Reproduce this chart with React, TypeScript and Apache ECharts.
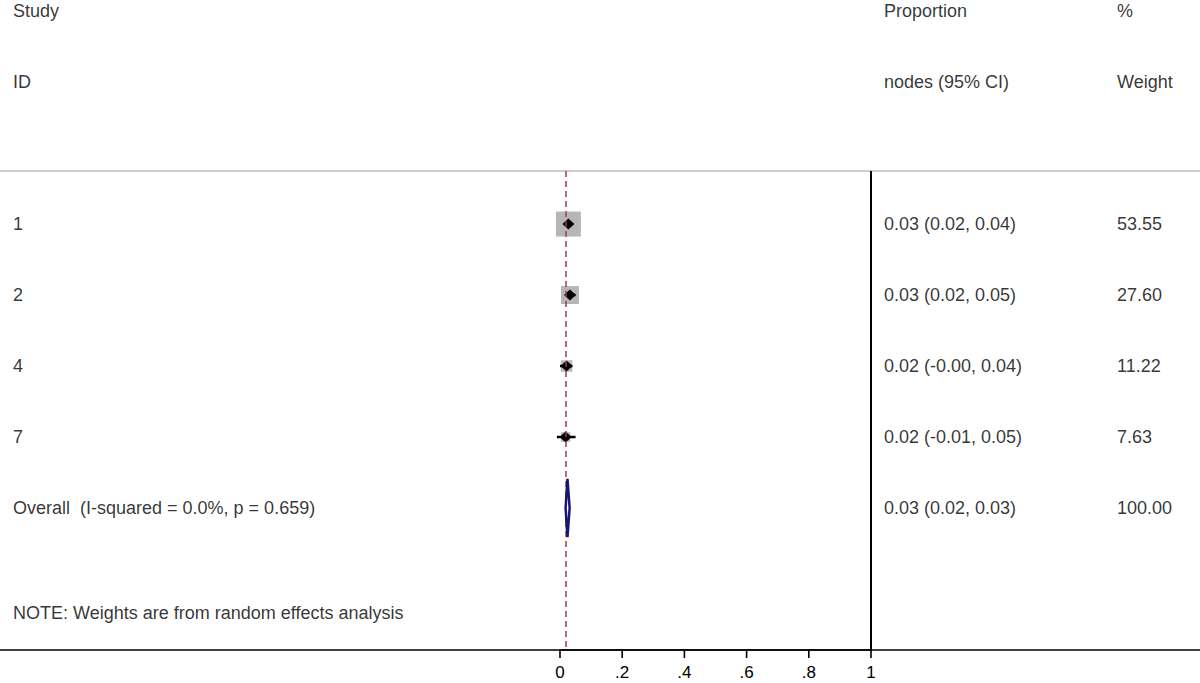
import React, { useEffect, useRef } from "react";
import * as echarts from "echarts";

// ---- data ----
const studyIds = ["1", "2", "4", "7"];
const studyRows = [1, 2, 3, 4];
const estimates = [0.027, 0.032, 0.021, 0.018];
const ciLower = [0.02, 0.02, -0.0, -0.01];
const ciUpper = [0.04, 0.05, 0.04, 0.05];
const weights = [53.55, 27.6, 11.22, 7.63];
const esLabels = ["0.03 (0.02, 0.04)", "0.03 (0.02, 0.05)", "0.02 (-0.00, 0.04)", "0.02 (-0.01, 0.05)"];
const weightLabels = ["53.55", "27.60", "11.22", "7.63"];

const overallRow = 5;
const overallLabel = "Overall  (I-squared = 0.0%, p = 0.659)";
const overallEstimate = 0.024;
const overallLower = 0.018;
const overallUpper = 0.031;
const overallEsLabel = "0.03 (0.02, 0.03)";
const overallWeightLabel = "100.00";

const headerRows = [-2, -1];
const headerLeft = ["Study", "ID"];
const headerMid = ["Proportion", "nodes (95% CI)"];
const headerRight = ["%", "Weight"];
const noteRow = 6.48;
const noteText = "NOTE: Weights are from random effects analysis";

const xTicks = [0, 0.2, 0.4, 0.6, 0.8, 1];
const xTickLabels = ["0", ".2", ".4", ".6", ".8", "1"];

// ---- layout ----
const FONT = "'Liberation Sans', Arial, Helvetica, sans-serif";
const PLOT_LEFT = 560;
const PLOT_W = 311;
const PLOT_TOP = 171;
const PLOT_H = 479;
const Y_MIN = 0.253;
const Y_MAX = 7.0;
const K = PLOT_H / (Y_MAX - Y_MIN);
const FULL_Y_MIN = Y_MIN - PLOT_TOP / K;
const FULL_Y_MAX = Y_MAX + (683 - PLOT_TOP - PLOT_H) / K;
const COL_LEFT = 13;
const COL_MID = 884;
const COL_RIGHT = 1117;
const MAX_SQUARE = 25;
const TICK_LEN = 8;

export default function App() {
  const ref = useRef<HTMLDivElement>(null);

  useEffect(() => {
    if (!ref.current) return;
    const chart = echarts.init(ref.current, undefined, { renderer: "svg" });

    const textData: any[] = [];
    headerRows.forEach((r, i) => {
      textData.push([COL_LEFT, r, headerLeft[i]]);
      textData.push([COL_MID, r, headerMid[i]]);
      textData.push([COL_RIGHT, r, headerRight[i]]);
    });
    studyIds.forEach((id, i) => {
      textData.push([COL_LEFT, studyRows[i], id]);
      textData.push([COL_MID, studyRows[i], esLabels[i]]);
      textData.push([COL_RIGHT, studyRows[i], weightLabels[i]]);
    });
    textData.push([COL_LEFT, overallRow, overallLabel]);
    textData.push([COL_MID, overallRow, overallEsLabel]);
    textData.push([COL_RIGHT, overallRow, overallWeightLabel]);
    textData.push([COL_LEFT, noteRow, noteText]);

    const maxW = Math.max(...weights);

    chart.setOption({
      animation: false,
      backgroundColor: "#fff",
      grid: [
        { left: PLOT_LEFT, top: PLOT_TOP, width: PLOT_W, height: PLOT_H },
        { left: 0, top: 0, width: 1200, height: 683 },
      ],
      xAxis: [
        {
          gridIndex: 0,
          type: "value",
          min: 0,
          max: 1,
          interval: 0.2,
          axisLine: { show: true, onZero: false, lineStyle: { color: "#000", width: 1.5 } },
          axisTick: { show: false },
          axisLabel: {
            color: "#000",
            fontSize: 17,
            fontFamily: FONT,
            margin: 14,
            formatter: (v: number) => {
              const idx = xTicks.findIndex((t) => Math.abs(t - v) < 1e-9);
              return idx >= 0 ? xTickLabels[idx] : "";
            },
          },
          splitLine: { show: false },
        },
        { gridIndex: 1, type: "value", min: 0, max: 1200, show: false },
      ],
      yAxis: [
        { gridIndex: 0, type: "value", min: Y_MIN, max: Y_MAX, inverse: true, show: false },
        { gridIndex: 1, type: "value", min: FULL_Y_MIN, max: FULL_Y_MAX, inverse: true, show: false },
      ],
      graphic: [
        { type: "line", shape: { x1: 0, y1: PLOT_TOP, x2: 1200, y2: PLOT_TOP }, style: { stroke: "#bdbdbd", lineWidth: 1.5 }, z: 0 },
        { type: "line", shape: { x1: 0, y1: PLOT_TOP + PLOT_H, x2: 1200, y2: PLOT_TOP + PLOT_H }, style: { stroke: "#000", lineWidth: 1.5 }, z: 10 },
      ],
      series: [
        {
          type: "scatter",
          xAxisIndex: 0,
          yAxisIndex: 0,
          data: [],
          z: 1,
          markLine: {
            silent: true,
            symbol: "none",
            label: { show: false },
            data: [
              { xAxis: overallEstimate, lineStyle: { color: "#a8384e", width: 1.5, type: [6, 4] } },
              { xAxis: 1, lineStyle: { color: "#000", width: 2, type: "solid" } },
            ],
          },
        },
        {
          // axis ticks
          type: "custom",
          xAxisIndex: 0,
          yAxisIndex: 0,
          z: 3,
          clip: false,
          silent: true,
          encode: { x: 0, y: 1 },
          data: xTicks.map((t) => [t, Y_MAX]),
          renderItem: (params: any, api: any) => {
            const p = api.coord([api.value(0), api.value(1)]);
            return {
              type: "line",
              shape: { x1: p[0], y1: p[1], x2: p[0], y2: p[1] + TICK_LEN },
              style: { stroke: "#000", lineWidth: 1.6 },
            };
          },
        },
        {
          type: "scatter",
          xAxisIndex: 0,
          yAxisIndex: 0,
          symbol: "rect",
          z: 2,
          itemStyle: { color: "#b6b6b6", opacity: 1 },
          data: estimates.map((e, i) => ({
            value: [e, studyRows[i]],
            symbolSize: MAX_SQUARE * Math.sqrt(weights[i] / maxW),
          })),
        },
        {
          type: "custom",
          xAxisIndex: 0,
          yAxisIndex: 0,
          z: 3,
          encode: { x: [0, 1], y: 2 },
          data: studyRows.map((r, i) => [ciLower[i], ciUpper[i], r]),
          renderItem: (params: any, api: any) => {
            const a = api.coord([api.value(0), api.value(2)]);
            const b = api.coord([api.value(1), api.value(2)]);
            return {
              type: "line",
              shape: { x1: a[0], y1: a[1], x2: b[0], y2: b[1] },
              style: { stroke: "#000", lineWidth: 2.5 },
            };
          },
        },
        {
          type: "scatter",
          xAxisIndex: 0,
          yAxisIndex: 0,
          symbol: "diamond",
          symbolSize: [12, 11],
          z: 4,
          itemStyle: { color: "#000", opacity: 1 },
          data: estimates.map((e, i) => [e, studyRows[i]]),
        },
        {
          type: "custom",
          xAxisIndex: 0,
          yAxisIndex: 0,
          z: 5,
          encode: { x: [0, 1, 2], y: 3 },
          data: [[overallLower, overallEstimate, overallUpper, overallRow]],
          renderItem: (params: any, api: any) => {
            const row = api.value(3);
            const h = 0.41;
            const p1 = api.coord([api.value(0), row]);
            const p2 = api.coord([api.value(1), row - h]);
            const p3 = api.coord([api.value(2), row]);
            const p4 = api.coord([api.value(1), row + h]);
            return {
              type: "polygon",
              shape: { points: [p1, p2, p3, p4] },
              style: { fill: "#fff", stroke: "#161675", lineWidth: 2.5 },
            };
          },
        },
        {
          type: "scatter",
          xAxisIndex: 1,
          yAxisIndex: 1,
          symbolSize: 0,
          z: 6,
          silent: true,
          data: textData,
          label: {
            show: true,
            position: "right",
            distance: 0,
            align: "left",
            verticalAlign: "middle",
            color: "#000",
            fontSize: 18,
            fontFamily: FONT,
            formatter: (p: any) => p.value[2],
          },
        },
      ],
    });

    return () => chart.dispose();
  }, []);

  return (
    <div
      ref={ref}
      style={{ position: "fixed", left: 0, top: 0, width: 1200, height: 683, background: "#fff" }}
    />
  );
}
